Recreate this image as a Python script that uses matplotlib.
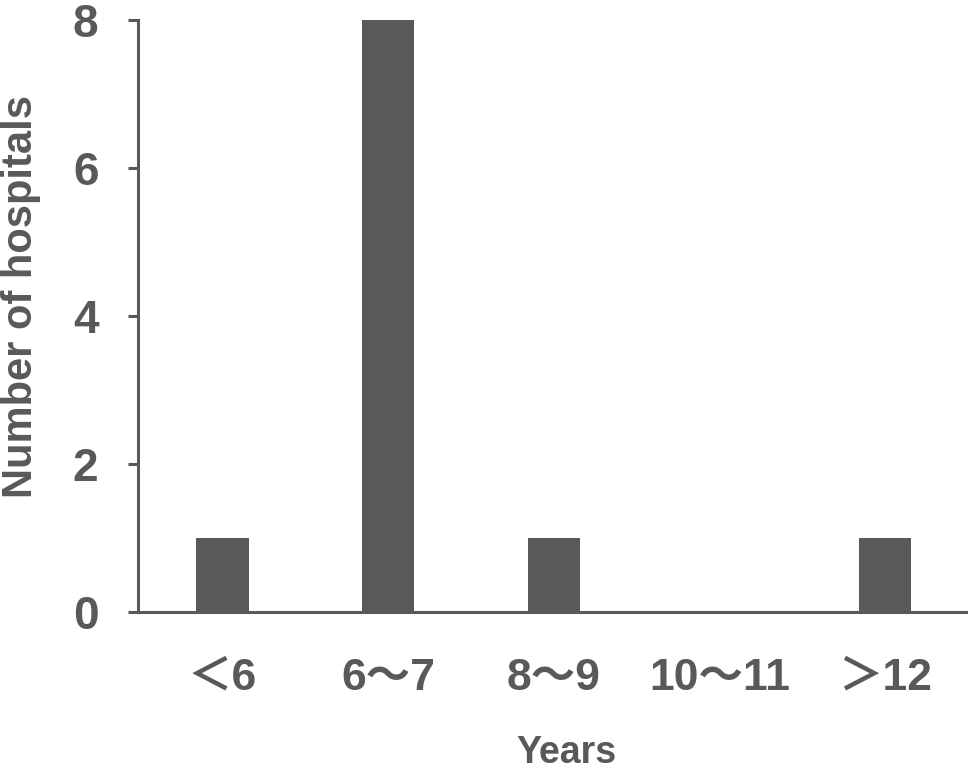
import matplotlib
matplotlib.use("Agg")
import matplotlib.pyplot as plt

plt.rcParams['font.family'] = ['Liberation Sans', 'Noto Sans CJK JP', 'DejaVu Sans']
plt.rcParams['font.weight'] = 'bold'

# data
categories = ['＜6', '6～7', '8～9', '10～11', '＞12']
hospitals = [1, 8, 1, 0, 1]
y_ticks = [0, 2, 4, 6, 8]

grey = '#595959'

fig = plt.figure(figsize=(9.68, 7.72), dpi=100)
ax = fig.add_axes([138 / 968, 1 - 612 / 772, 1 - 138 / 968, (612 - 20) / 772])

x = list(range(len(categories)))
ax.bar(x, hospitals, width=0.315, color=grey, zorder=3)

ax.set_xlim(-0.51, 4.5)
ax.set_ylim(0, 8)
ax.set_yticks(y_ticks)
ax.set_xticks(x)
ax.set_xticklabels(categories)

for side in ['top', 'right']:
    ax.spines[side].set_visible(False)
for side in ['left', 'bottom']:
    ax.spines[side].set_color(grey)
    ax.spines[side].set_linewidth(2.2)

ax.tick_params(axis='y', direction='out', length=7.5, width=2.2, color=grey,
               labelcolor=grey, labelsize=33, pad=21)
ax.tick_params(axis='x', length=0, labelcolor=grey, labelsize=32, pad=33)
for lbl in ax.get_xticklabels() + ax.get_yticklabels():
    lbl.set_fontweight('bold')

fig.text(21 / 968, 1 - 297 / 772, 'Number of hospitals', rotation=90,
         ha='center', va='center', fontsize=30, fontweight='bold', color=grey)
fig.text(566 / 968, 1 / 772, 'Years', ha='center', va='bottom',
         fontsize=27, fontweight='bold', color=grey)

fig.savefig('out.png', dpi=100)
